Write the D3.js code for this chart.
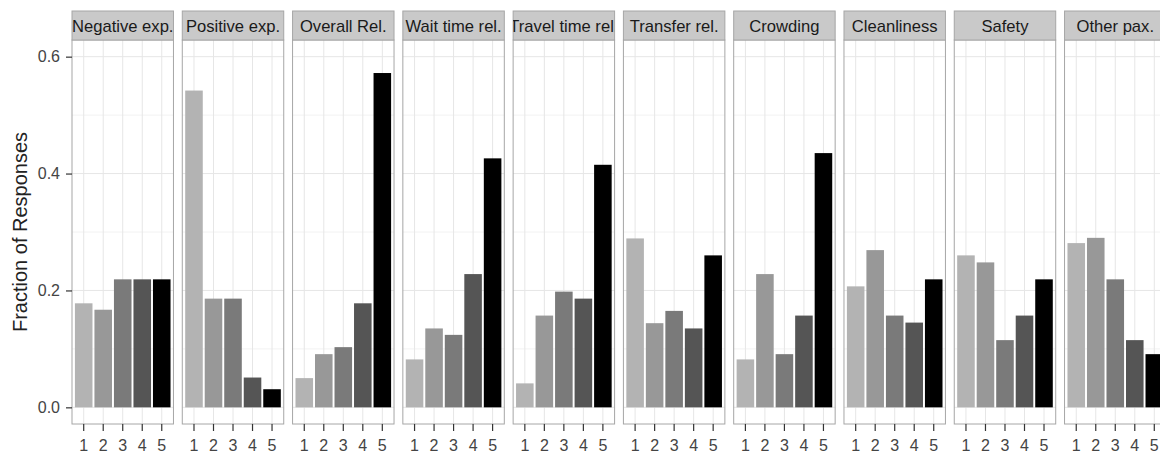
<!DOCTYPE html>
<html>
<head>
<meta charset="utf-8">
<script src="https://cdn.jsdelivr.net/npm/d3@7"></script>
<style>
  body { margin: 0; background: #fff; overflow: hidden; }
  svg { display: block; font-family: "Liberation Sans", Arial, Helvetica, sans-serif; }
</style>
</head>
<body>
<div class="chart"></div>
<script>
'use strict';

const facets = ["Negative exp.", "Positive exp.", "Overall Rel.", "Wait time rel.", "Travel time rel.",
                "Transfer rel.", "Crowding", "Cleanliness", "Safety", "Other pax."];
const ratings = ["1", "2", "3", "4", "5"];
const yTicks = [0, 0.2, 0.4, 0.6];
const yMinor = [0.1, 0.3, 0.5];

const negativeExp   = [0.178, 0.167, 0.219, 0.219, 0.219];
const positiveExp   = [0.542, 0.186, 0.186, 0.051, 0.031];
const overallRel    = [0.050, 0.091, 0.103, 0.178, 0.572];
const waitTimeRel   = [0.082, 0.135, 0.124, 0.228, 0.426];
const travelTimeRel = [0.041, 0.157, 0.198, 0.186, 0.415];
const transferRel   = [0.289, 0.144, 0.165, 0.135, 0.260];
const crowding      = [0.082, 0.228, 0.091, 0.157, 0.435];
const cleanliness   = [0.207, 0.269, 0.157, 0.145, 0.219];
const safety        = [0.260, 0.248, 0.115, 0.157, 0.219];
const otherPax      = [0.281, 0.290, 0.219, 0.115, 0.091];

(function() {

    const series = [negativeExp, positiveExp, overallRel, waitTimeRel, travelTimeRel,
                    transferRel, crowding, cleanliness, safety, otherPax];

    const width = 1160, height = 454;
    const stripTop = 11, panelTop = 40, panelBottom = 424;

    const svg = d3.select('.chart').append('svg')
        .attr('width', width).attr('height', height);

    // panels laid out side by side
    const fx = d3.scaleBand().domain(facets).range([72, 1166]).paddingInner(0.08);
    const pw = fx.bandwidth();

    // y with ggplot-like expansion around 0..0.6
    const y = d3.scaleLinear().domain([-0.0285, 0.6285]).range([panelBottom, panelTop]);

    const x = d3.scaleBand().domain(ratings).range([0, pw]).paddingInner(0.1).paddingOuter(0.15);

    const fill = d3.scaleOrdinal().domain(ratings)
        .range(["#b3b3b3", "#989898", "#7a7a7a", "#555555", "#000000"]);

    const defs = svg.append('defs');

    facets.forEach(function(name, i) {
        const g = svg.append('g').attr('transform', 'translate(' + fx(name) + ',0)');

        // grid
        g.selectAll('.minor').data(yMinor).enter().append('line')
            .attr('x1', 0).attr('x2', pw)
            .attr('y1', d => y(d)).attr('y2', d => y(d))
            .attr('stroke', '#f2f2f2').attr('stroke-width', 1);
        g.selectAll('.major').data(yTicks).enter().append('line')
            .attr('x1', 0).attr('x2', pw)
            .attr('y1', d => y(d)).attr('y2', d => y(d))
            .attr('stroke', '#e6e6e6').attr('stroke-width', 1);
        g.selectAll('.vgrid').data(ratings).enter().append('line')
            .attr('x1', d => x(d) + x.bandwidth() / 2).attr('x2', d => x(d) + x.bandwidth() / 2)
            .attr('y1', panelTop).attr('y2', panelBottom)
            .attr('stroke', '#e6e6e6').attr('stroke-width', 1);

        // bars
        g.selectAll('rect.bar').data(series[i]).enter().append('rect')
            .attr('class', 'bar')
            .attr('x', (d, k) => x(ratings[k]))
            .attr('width', x.bandwidth())
            .attr('y', d => y(d))
            .attr('height', d => y(0) - y(d))
            .attr('fill', (d, k) => fill(ratings[k]));

        // panel border
        g.append('rect')
            .attr('x', 0).attr('y', panelTop)
            .attr('width', pw).attr('height', panelBottom - panelTop)
            .attr('fill', 'none').attr('stroke', '#a6a6a6').attr('stroke-width', 1);

        // strip, text clipped like ggplot does
        const clipId = 'strip-clip-' + i;
        defs.append('clipPath').attr('id', clipId)
            .append('rect').attr('x', 0).attr('y', stripTop)
            .attr('width', pw).attr('height', panelTop - stripTop);
        g.append('rect')
            .attr('x', 0).attr('y', stripTop)
            .attr('width', pw).attr('height', panelTop - stripTop)
            .attr('fill', '#c9c9c9').attr('stroke', '#a6a6a6').attr('stroke-width', 1);
        g.append('text')
            .attr('clip-path', 'url(#' + clipId + ')')
            .attr('x', pw / 2).attr('y', 31.5)
            .attr('text-anchor', 'middle')
            .style('font-size', '16.6px').style('fill', '#1a1a1a')
            .text(name);

        // x axis
        const xa = g.append('g')
            .attr('transform', 'translate(0,' + panelBottom + ')')
            .call(d3.axisBottom(x).tickSize(7).tickPadding(9));
        xa.select('.domain').remove();
        xa.selectAll('.tick line').attr('stroke', '#333').attr('stroke-width', 1.2);
        xa.selectAll('.tick text').style('font-size', '16px').style('fill', '#444')
            .style('font-family', '"Liberation Sans", Arial, sans-serif');
    });

    // y axis on the first panel
    const ya = svg.append('g')
        .attr('transform', 'translate(' + fx(facets[0]) + ',0)')
        .call(d3.axisLeft(y).tickValues(yTicks).tickFormat(d3.format('.1f')).tickSize(6).tickPadding(6));
    ya.select('.domain').remove();
    ya.selectAll('.tick line').attr('stroke', '#333').attr('stroke-width', 1.2);
    ya.selectAll('.tick text').style('font-size', '16px').style('fill', '#444')
        .style('font-family', '"Liberation Sans", Arial, sans-serif');

    // axis title
    svg.append('text')
        .attr('transform', 'translate(27,' + ((panelTop + panelBottom) / 2) + ') rotate(-90)')
        .attr('text-anchor', 'middle')
        .style('font-size', '20px').style('fill', '#222')
        .text('Fraction of Responses');

})();
</script>
</body>
</html>
